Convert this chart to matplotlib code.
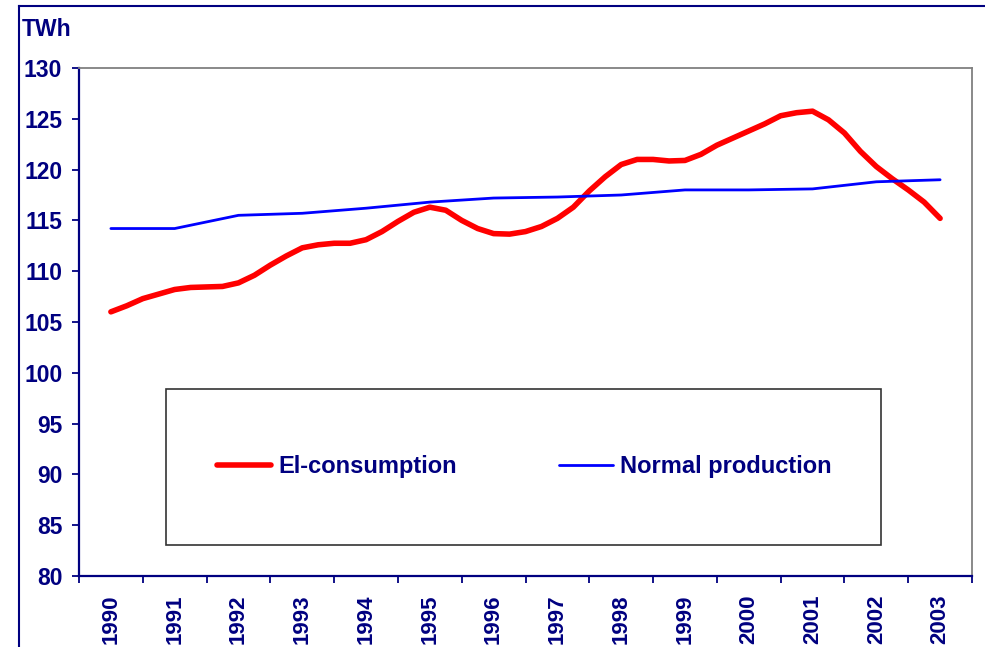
import numpy as np
import matplotlib
matplotlib.use("Agg")
import matplotlib.pyplot as plt
from matplotlib.lines import Line2D
from matplotlib.patches import Rectangle

years = [str(y) for y in range(1990, 2004)]

# Normal production, one value per year
normal_production = [114.2, 114.2, 115.5, 115.7, 116.2, 116.8, 117.2,
                     117.3, 117.5, 118.0, 118.0, 118.1, 118.8, 119.0]

# El-consumption, read at quarter-year steps from 1990 to 2003
el_consumption = [106.0, 106.6, 107.3, 107.75, 108.2, 108.4, 108.45, 108.5,
                  108.85, 109.6, 110.6, 111.5, 112.3, 112.6, 112.75, 112.75,
                  113.1, 113.9, 114.9, 115.8, 116.3, 116.0, 115.0, 114.2,
                  113.7, 113.65, 113.9, 114.4, 115.2, 116.3, 117.9, 119.3,
                  120.5, 121.0, 121.0, 120.85, 120.9, 121.5, 122.4, 123.1,
                  123.8, 124.5, 125.3, 125.6, 125.75, 124.9, 123.6, 121.8,
                  120.3, 119.1, 118.0, 116.8, 115.2]

navy = "#000080"
plt.rcParams["font.family"] = ["Liberation Sans", "DejaVu Sans"]
plt.rcParams["font.weight"] = "bold"

fig = plt.figure(figsize=(9.85, 6.47), dpi=100)
ax = fig.add_axes([79 / 985, 1 - 576 / 647, 893 / 985, 508 / 647])

x_year = np.arange(len(years))
x_quarter = np.arange(len(el_consumption)) / 4.0

ax.plot(x_quarter, el_consumption, color="#ff0000", lw=4.0,
        solid_capstyle="round", solid_joinstyle="round", label="El-consumption")
ax.plot(x_year, normal_production, color="#0000ff", lw=2.0,
        solid_capstyle="round", label="Normal production")

ax.set_xlim(-0.5, len(years) - 0.5)
ax.set_ylim(80, 130)
ax.set_yticks(range(80, 131, 5))
ax.set_xticks(x_year)
ax.set_xticklabels(years, rotation=90, va="top")
ax.set_xticks(np.arange(len(years) + 1) - 0.5, minor=True)

ax.tick_params(axis="x", which="major", length=0, pad=13,
               labelsize=16, labelcolor=navy)
ax.tick_params(axis="x", which="minor", length=5, width=1.3, color=navy,
               direction="out")
ax.tick_params(axis="y", length=5, width=1.3, color=navy, pad=7,
               labelsize=16.5, labelcolor=navy)

for s in ["left", "bottom"]:
    ax.spines[s].set_color(navy)
    ax.spines[s].set_linewidth(1.6)
for s in ["top", "right"]:
    ax.spines[s].set_color("#808080")
    ax.spines[s].set_linewidth(1.3)

fig.text(22 / 985, 1 - 30 / 647, "TWh", fontsize=16.5, color=navy,
         fontweight="bold", va="center", ha="left")

# legend box
ax.add_patch(Rectangle(((166 - 79) / 893, (576 - 545) / 508),
                       (881 - 166) / 893, (545 - 389) / 508,
                       transform=ax.transAxes, fill=False,
                       edgecolor="#333333", lw=1.2, zorder=1))
ax.legend(loc="center left", bbox_to_anchor=((217 - 79) / 893, (576 - 467) / 508),
          ncol=2, frameon=False, borderpad=0, borderaxespad=0,
          handlelength=2.3, handletextpad=0.3, columnspacing=4.3,
          prop={"size": 17, "weight": "bold"}, labelcolor=navy)

# outer chart frame
fig.add_artist(Line2D([19 / 985, 19 / 985], [0, 1 - 6 / 647], color=navy, lw=1.5))
fig.add_artist(Line2D([19 / 985, 1], [1 - 6 / 647, 1 - 6 / 647], color=navy, lw=1.5))

fig.savefig("out.png", dpi=100)
